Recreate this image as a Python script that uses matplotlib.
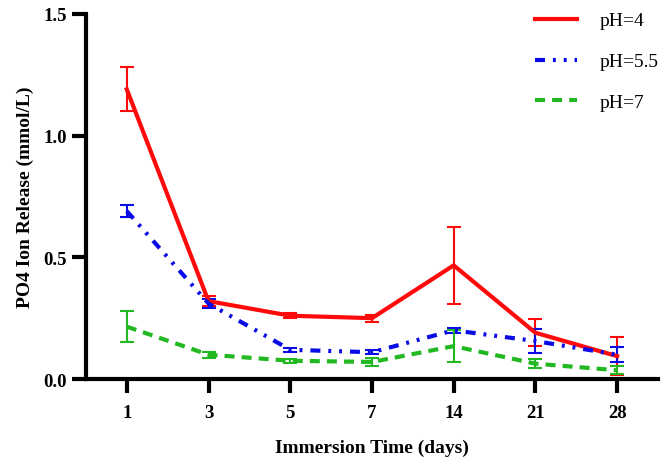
import matplotlib
matplotlib.use("Agg")
import matplotlib.pyplot as plt
import numpy as np

days = ["1", "3", "5", "7", "14", "21", "28"]
ph4 = [1.19, 0.32, 0.26, 0.25, 0.467, 0.19, 0.094]
ph4_err = [0.09, 0.02, 0.01, 0.015, 0.158, 0.055, 0.078]
ph55 = [0.69, 0.31, 0.12, 0.11, 0.20, 0.156, 0.10]
ph55_err = [0.025, 0.02, 0.008, 0.008, 0.01, 0.05, 0.03]
ph7 = [0.215, 0.10, 0.075, 0.07, 0.135, 0.063, 0.036]
ph7_err = [0.065, 0.012, 0.008, 0.018, 0.065, 0.018, 0.016]

plt.rcParams['font.family'] = ['Liberation Serif', 'DejaVu Serif']

fig = plt.figure(figsize=(6.66, 4.64), dpi=100)
ax = fig.add_axes([0.129, 0.181, 0.859, 0.787])

x = np.arange(len(days))
ekw = dict(elinewidth=1.5, capsize=5, capthick=1.5)
ax.errorbar(x, ph4, yerr=ph4_err, color='#ff0a0a', lw=3, ls='-', label='pH=4', **ekw)
ax.errorbar(x, ph55, yerr=ph55_err, color='#0a0ae6', lw=3,
            dashes=(2.4, 1.9, 0.7, 1.9, 0.7, 1.9), label='pH=5.5', **ekw)
ax.errorbar(x, ph7, yerr=ph7_err, color='#22b822', lw=3, dashes=(2.4, 1.7), label='pH=7', **ekw)

ax.set_xlim(-0.5, 6.5)
ax.set_ylim(0, 1.5)
ax.set_xticks(x)
ax.set_xticklabels(days)
ax.set_yticks([0, 0.5, 1.0, 1.5])
ax.set_yticklabels(["0.0", "0.5", "1.0", "1.5"])
for s in ['top', 'right']:
    ax.spines[s].set_visible(False)
for s in ['left', 'bottom']:
    ax.spines[s].set_linewidth(3)
ax.tick_params(width=3, length=10, labelsize=13.5)
ax.tick_params(axis='y', pad=3.5)
ax.tick_params(axis='x', pad=8)
for lab in ax.get_xticklabels() + ax.get_yticklabels():
    lab.set_fontweight('bold')
ax.set_xlabel("Immersion Time (days)", fontsize=14, fontweight='bold', labelpad=13)
ax.set_ylabel("PO4 Ion Release (mmol/L)", fontsize=14, fontweight='bold', labelpad=7)

handles, labels = ax.get_legend_handles_labels()
handles = [h[0] for h in handles]
leg = fig.legend(handles, labels, loc='upper left', bbox_to_anchor=(527 / 666, 1.0 - 5 / 464),
                 borderaxespad=0, frameon=False, fontsize=14, handlelength=2.16,
                 labelspacing=1.2, handletextpad=1.18)

fig.savefig("out.png", dpi=100)
